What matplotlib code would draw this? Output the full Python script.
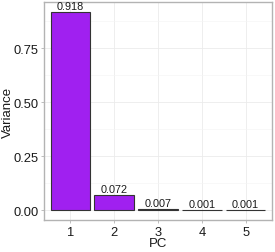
import matplotlib
matplotlib.use('Agg')
import matplotlib.pyplot as plt
import numpy as np
from matplotlib.ticker import MultipleLocator

pcs = ['1', '2', '3', '4', '5']
variance = [0.918, 0.072, 0.007, 0.001, 0.001]
yticks = [0.00, 0.25, 0.50, 0.75]

plt.rcParams['font.family'] = ['Liberation Sans', 'DejaVu Sans']

fig = plt.figure(figsize=(2.75, 2.53), dpi=100)
ax = fig.add_axes([0.16, 0.1265, 0.829, 0.8615])

x = np.arange(1, len(pcs) + 1)
ax.bar(x, variance, width=0.9, color='#A020F0', edgecolor='#333333', linewidth=0.8, zorder=3)
for xi, v in zip(x, variance):
    ax.text(xi, v + 0.003, '%.3f' % v, ha='center', va='bottom', fontsize=7.8, color='#1a1a1a', zorder=4)

vmax = max(variance)
ax.set_ylim(-0.05 * vmax, 1.05 * vmax)
ax.set_xlim(0.4, len(pcs) + 0.6)
ax.set_xticks(x)
ax.set_xticklabels(pcs)
ax.set_yticks(yticks)
ax.set_yticklabels(['%.2f' % t for t in yticks])
ax.yaxis.set_minor_locator(MultipleLocator(0.125))

ax.grid(which='major', color='#ebebeb', linewidth=0.6, zorder=0)
ax.grid(which='minor', axis='y', color='#f4f4f4', linewidth=0.4, zorder=0)
ax.tick_params(which='minor', length=0)
ax.tick_params(which='major', length=2.5, width=0.6, color='#b3b3b3',
               labelsize=9.3, labelcolor='#1a1a1a', pad=1.5)
for s in ax.spines.values():
    s.set_color('#b3b3b3')
    s.set_linewidth(1.0)

ax.set_xlabel('PC', fontsize=9.5, color='#1a1a1a')
ax.set_ylabel('Variance', fontsize=9.5, color='#1a1a1a')
ax.xaxis.set_label_coords(0.5, -0.08)
ax.yaxis.set_label_coords(-0.13, 0.5)

fig.savefig('out.png', dpi=100)
